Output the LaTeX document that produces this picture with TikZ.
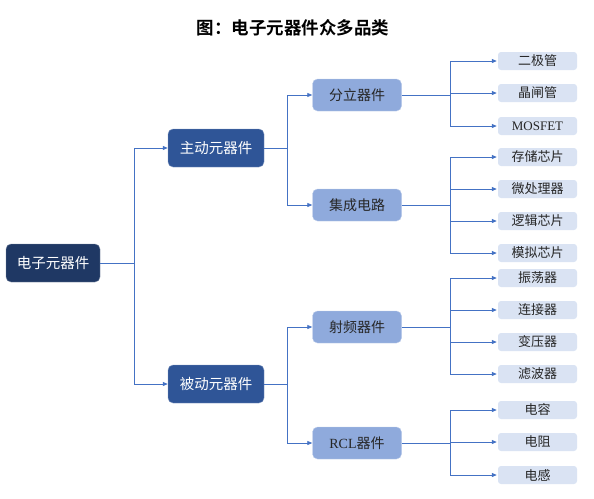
\documentclass[tikz,border=0pt]{standalone}
\usepackage{fontspec}
\setmainfont{Liberation Serif}
\newfontfamily\cjk{Noto Sans CJK SC}
\newfontfamily\cjkb{Noto Sans CJK SC Bold}
\usetikzlibrary{arrows.meta}
\definecolor{navy}{HTML}{1F3864}
\definecolor{midblue}{HTML}{2F5597}
\definecolor{lightblue}{HTML}{8FAADC}
\definecolor{paleblue}{HTML}{DAE3F3}
\definecolor{linecol}{HTML}{4472C4}
\definecolor{txtdark}{HTML}{262626}
\begin{document}
\begin{tikzpicture}[x=1pt,y=-1pt,
  rootbox/.style={fill=navy,draw=navy!60,line width=0.4pt,rounded corners=5pt,minimum width=94pt,minimum height=38pt,text=white,font=\cjk\fontsize{14.5}{16}\selectfont,inner sep=0pt},
  lvone/.style={fill=midblue,draw=midblue!60,line width=0.4pt,rounded corners=5pt,minimum width=96pt,minimum height=38pt,text=white,font=\cjk\fontsize{14.5}{16}\selectfont,inner sep=0pt},
  lvtwo/.style={fill=lightblue,draw=lightblue!60,line width=0.4pt,rounded corners=5pt,minimum width=89pt,minimum height=32pt,text=txtdark,font=\cjk\fontsize{14}{16}\selectfont,inner sep=0pt},
  leaf/.style={fill=paleblue,draw=none,rounded corners=3pt,minimum width=79pt,minimum height=18pt,text=txtdark,font=\cjk\fontsize{13}{14}\selectfont,inner sep=0pt},
  conn/.style={draw=linecol,line width=0.8pt},
  arr/.style={conn,-{Triangle[length=5pt,width=4pt]}}
]
\useasboundingbox (0,0) rectangle (594,498);
\node[font=\cjkb\fontsize{17.5}{20}\selectfont,text=black] (title) at (293,28) {图：电子元器件众多品类};

\node[rootbox] (root) at (53,263) {电子元器件};
\node[lvone] (act) at (216,148) {主动元器件};
\node[lvone] (pas) at (216,384) {被动元器件};

\node[lvtwo] (dis) at (357,95) {分立器件};
\node[lvtwo] (ic) at (357,205) {集成电路};
\node[lvtwo] (rf) at (357,327) {射频器件};
\node[lvtwo] (rcl) at (357,443) {{\rmfamily RCL}器件};

\node[leaf] (l1) at (537.5,61) {二极管};
\node[leaf] (l2) at (537.5,93) {晶闸管};
\node[leaf] (l3) at (537.5,126) {\rmfamily MOSFET};
\node[leaf] (l4) at (537.5,157) {存储芯片};
\node[leaf] (l5) at (537.5,189) {微处理器};
\node[leaf] (l6) at (537.5,221) {逻辑芯片};
\node[leaf] (l7) at (537.5,253) {模拟芯片};
\node[leaf] (l8) at (537.5,278) {振荡器};
\node[leaf] (l9) at (537.5,310) {连接器};
\node[leaf] (l10) at (537.5,342) {变压器};
\node[leaf] (l11) at (537.5,374) {滤波器};
\node[leaf] (l12) at (537.5,410) {电容};
\node[leaf] (l13) at (537.5,442) {电阻};
\node[leaf] (l14) at (537.5,475) {电感};

\coordinate (j0) at (134,263);
\draw[conn] (root.east) -- (j0);
\draw[arr] (j0) |- (act.west);
\draw[arr] (j0) |- (pas.west);

\coordinate (j1) at (287,148);
\draw[conn] (act.east) -- (j1);
\draw[arr] (j1) |- (dis.west);
\draw[arr] (j1) |- (ic.west);

\coordinate (j2) at (287,384);
\draw[conn] (pas.east) -- (j2);
\draw[arr] (j2) |- (rf.west);
\draw[arr] (j2) |- (rcl.west);

\coordinate (j3) at (450,95);
\draw[conn] (dis.east) -- (j3);
\foreach \l in {l1,l2,l3} \draw[arr] (j3) |- ([xshift=-1pt]\l.west);

\coordinate (j4) at (450,205);
\draw[conn] (ic.east) -- (j4);
\foreach \l in {l4,l5,l6,l7} \draw[arr] (j4) |- ([xshift=-1pt]\l.west);

\coordinate (j5) at (450,327);
\draw[conn] (rf.east) -- (j5);
\foreach \l in {l8,l9,l10,l11} \draw[arr] (j5) |- ([xshift=-1pt]\l.west);

\coordinate (j6) at (450,443);
\draw[conn] (rcl.east) -- (j6);
\foreach \l in {l12,l13,l14} \draw[arr] (j6) |- ([xshift=-1pt]\l.west);
\end{tikzpicture}
\end{document}
